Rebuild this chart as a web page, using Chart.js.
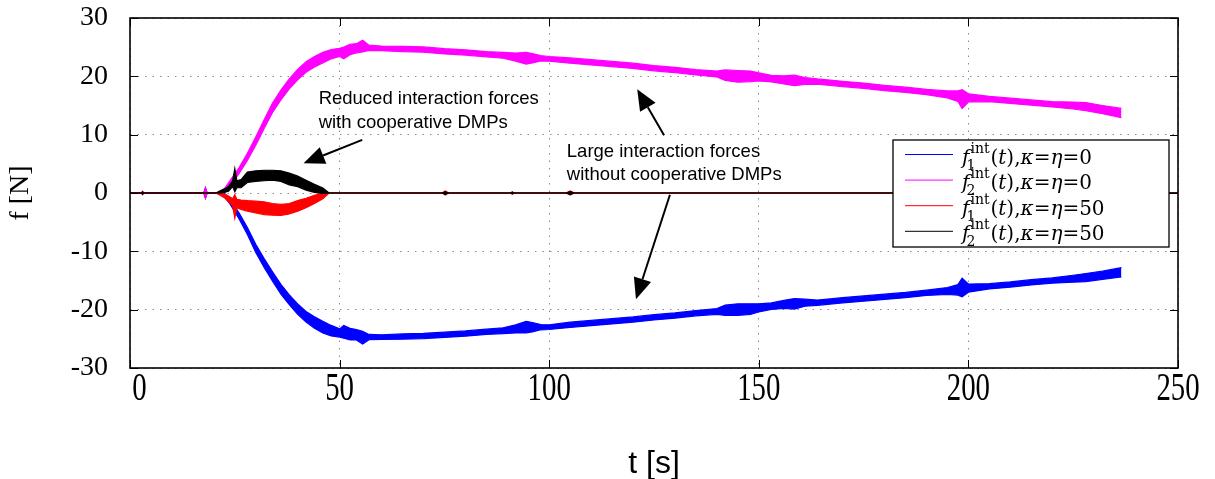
<!DOCTYPE html>
<html><head><meta charset="utf-8">
<script src="https://cdn.jsdelivr.net/npm/chart.js@4"></script>
<style>html,body{margin:0;padding:0;background:#fff;}#wrap{width:1215px;height:479px;}</style>
</head><body><div id="wrap"><canvas id="c" width="1215" height="479"></canvas></div>
<script>
// ---- tick labels ----
const tickX = [0, 50, 100, 150, 200, 250];
const tickY = [-30, -20, -10, 0, 10, 20, 30];

// ---- series without cooperative DMPs (kappa = eta = 0) ----
const tMain = [0, 17.6, 18, 18.4, 21, 22.5, 24, 26, 28, 30, 32, 34, 36, 38, 40, 42, 44, 46, 48, 50,
  51, 52.5, 54, 55.5, 57, 60, 65, 70, 75, 80, 85, 89, 92, 94.5, 96, 98, 100, 105, 110, 115,
  120, 125, 130, 135, 140, 142, 145, 148, 150, 153, 156, 158.5, 161, 164, 170, 175, 180, 185, 190, 195,
  197.5, 198.5, 200, 205, 210, 215, 220, 225, 228, 232, 236.5];
const blueMid = [0, 0, 0, 0, 0, -0.3, -1.6, -3.9, -6.5, -9.5, -12, -14.3, -16.5, -18.3, -19.9, -21.2, -22.2, -23, -23.6, -24,
  -23.8, -24.2, -24.3, -24.8, -24.7, -24.7, -24.6, -24.5, -24.3, -24.1, -23.8, -23.6, -23.3, -23.0, -23.0, -23.0, -23.0, -22.6, -22.3, -22.0,
  -21.7, -21.3, -21.0, -20.6, -20.3, -20.1, -20.0, -19.9, -19.7, -19.4, -19.1, -19.0, -18.8, -18.8, -18.4, -18.1, -17.8, -17.5, -17.1, -16.8,
  -16.6, -16.2, -16.3, -16.0, -15.7, -15.3, -15.0, -14.7, -14.5, -14.1, -13.6];
const blueSpread = [0, 0, 0.9, 0, 0, 0.3, 0.45, 0.5, 0.6, 0.7, 0.75, 0.8, 0.85, 0.85, 0.9, 0.9, 1.0, 1.0, 0.9, 0.7,
  1.1, 1.0, 0.9, 1.1, 0.45, 0.4, 0.45, 0.45, 0.45, 0.45, 0.45, 0.5, 0.7, 1.0, 0.8, 0.45, 0.4, 0.45, 0.45, 0.45,
  0.45, 0.45, 0.45, 0.45, 0.5, 0.9, 1.0, 0.9, 0.7, 0.55, 0.7, 0.9, 0.6, 0.45, 0.45, 0.45, 0.45, 0.45, 0.45, 0.6,
  0.9, 1.6, 0.7, 0.45, 0.45, 0.45, 0.45, 0.6, 0.7, 0.7, 0.8];
const magentaMid = [0, 0, 0, 0, 0, 0.4, 1.8, 3.8, 6.2, 8.9, 11.8, 14.6, 16.8, 18.7, 20.3, 21.6, 22.5, 23.2, 23.8, 24.1,
  24.0, 24.6, 24.8, 25.2, 24.9, 24.8, 24.7, 24.6, 24.3, 24.1, 23.8, 23.6, 23.3, 23.1, 23.1, 23.1, 23.0, 22.7, 22.4, 22.1,
  21.8, 21.4, 21.1, 20.7, 20.4, 20.2, 20.0, 20.0, 19.9, 19.6, 19.4, 19.3, 19.2, 19.1, 18.7, 18.4, 18.0, 17.7, 17.3, 16.9,
  16.6, 16.1, 16.3, 16.1, 15.8, 15.5, 15.2, 15.0, 14.8, 14.3, 13.7];
const magentaSpread = [0, 0, 0.9, 0, 0, 0.3, 0.45, 0.5, 0.6, 0.7, 0.75, 0.8, 0.85, 0.85, 0.9, 0.9, 0.9, 0.9, 0.8, 0.7,
  1.0, 0.9, 0.8, 1.0, 0.45, 0.4, 0.45, 0.45, 0.45, 0.45, 0.45, 0.5, 0.7, 1.0, 0.8, 0.45, 0.4, 0.45, 0.45, 0.45,
  0.45, 0.45, 0.45, 0.45, 0.5, 0.9, 1.0, 0.9, 0.7, 0.55, 0.7, 0.9, 0.6, 0.45, 0.45, 0.45, 0.45, 0.45, 0.45, 0.6,
  0.9, 1.6, 0.7, 0.45, 0.45, 0.45, 0.45, 0.6, 0.7, 0.7, 0.8];

// ---- series with cooperative DMPs (kappa = eta = 50) ----
const tCoop = [0, 2.7, 3, 3.3, 20.5, 21.5, 22.5, 23.5, 24.5, 25, 25.5, 26.5, 28, 30, 32, 34, 36, 38, 40, 42,
  44, 46, 47.5, 74.5, 75.2, 76, 90.8, 91.2, 91.6, 104, 105, 106, 250];
const redMid = [0, 0, 0, 0, 0, -0.2, -0.5, -1.0, -1.6, -2.3, -1.8, -2.0, -2.2, -2.4, -2.6, -2.8, -2.9, -2.7, -2.2, -1.7,
  -1.1, -0.5, 0, 0, 0, 0, 0, 0, 0, 0, 0, 0, 0];
const redSpread = [0, 0, 0.3, 0, 0, 0.2, 0.3, 0.5, 0.6, 2.0, 0.7, 0.8, 0.9, 1.0, 1.1, 1.0, 0.95, 0.9, 0.9, 0.8,
  0.7, 0.5, 0, 0, 0.35, 0, 0, 0.2, 0, 0, 0.35, 0, 0];
const blackMid = [0, 0, 0, 0, 0, 0.2, 0.4, 0.7, 1.6, 2.2, 1.5, 1.6, 2.7, 2.9, 3.0, 3.05, 2.9, 2.4, 2.0, 1.35,
  0.8, 0.4, 0, 0, 0, 0, 0, 0, 0, 0, 0, 0, 0];
const blackSpread = [0, 0, 0.2, 0, 0, 0.2, 0.3, 0.4, 0.5, 2.0, 0.6, 0.7, 0.9, 0.9, 0.9, 0.85, 0.9, 1.0, 0.9, 0.85,
  0.7, 0.45, 0, 0, 0.25, 0, 0, 0.15, 0, 0, 0.25, 0, 0];

// ---- legend and annotations ----
const legendColors = ['#0000ff', '#ff00ff', '#ff0000', '#000000'];
const legendSub = ['1', '2', '1', '2'];
const legendGain = ['0', '0', '50', '50'];
const noteReduced = ['Reduced interaction forces', 'with cooperative DMPs'];
const noteLarge = ['Large interaction forces', 'without cooperative DMPs'];
const noteReducedAt = [45, 15.3];
const noteLargeAt = [104.2, 6.1];
const arrows = [
  [[55.4, 9.1], [41.4, 5.1]],
  [[127.4, 9.9], [121.0, 17.8]],
  [[128.8, -0.3], [120.7, -18.2]]
];

function band(t, mid, spread, sign) {
  return t.map((x, i) => ({x: x, y: mid[i] + sign * spread[i]}));
}
const series = [
  {t: tMain, mid: blueMid, spread: blueSpread, color: legendColors[0], order: 4},
  {t: tMain, mid: magentaMid, spread: magentaSpread, color: legendColors[1], order: 3},
  {t: tCoop, mid: redMid, spread: redSpread, color: legendColors[2], order: 2},
  {t: tCoop, mid: blackMid, spread: blackSpread, color: legendColors[3], order: 1}
];
const datasets = [];
series.forEach((s, k) => {
  const common = {borderColor: s.color, backgroundColor: s.color, borderWidth: 1.2, pointRadius: 0,
    tension: 0, order: s.order};
  datasets.push(Object.assign({label: 's' + k + 'hi', data: band(s.t, s.mid, s.spread, 1), fill: false}, common));
  datasets.push(Object.assign({label: 's' + k + 'lo', data: band(s.t, s.mid, s.spread, -1), fill: '-1'}, common));
});

const serif = "'Liberation Serif', 'Times New Roman', serif";
const sans = "'Liberation Sans', Arial, sans-serif";

const decor = {
  id: 'decor',
  afterDraw(chart) {
    const ctx = chart.ctx, ca = chart.chartArea;
    const xs = chart.scales.x, ys = chart.scales.y;
    ctx.save();
    // inward ticks
    ctx.strokeStyle = '#000'; ctx.lineWidth = 1;
    ctx.beginPath();
    tickY.forEach(v => {
      const py = Math.round(ys.getPixelForValue(v)) + 0.5;
      ctx.moveTo(ca.left, py); ctx.lineTo(ca.left + 8, py);
      ctx.moveTo(ca.right, py); ctx.lineTo(ca.right - 8, py);
    });
    tickX.forEach(v => {
      const px = Math.round(xs.getPixelForValue(v)) + 0.5;
      ctx.moveTo(px, ca.bottom); ctx.lineTo(px, ca.bottom - 8);
      ctx.moveTo(px, ca.top); ctx.lineTo(px, ca.top + 8);
    });
    ctx.stroke();
    // frame
    ctx.lineWidth = 1.6;
    ctx.strokeRect(ca.left, ca.top, ca.right - ca.left, ca.bottom - ca.top);
    // x tick labels (tall narrow digits as in the figure)
    ctx.fillStyle = '#000';
    ctx.font = '40px ' + serif;
    ctx.textBaseline = 'middle';
    tickX.forEach((v, i) => {
      const px = xs.getPixelForValue(v);
      ctx.save();
      ctx.translate(px, ca.bottom + 21);
      ctx.scale(0.72, 1);
      if (i === 0) { ctx.textAlign = 'left'; ctx.fillText(String(v), 3, 0); }
      else { ctx.textAlign = 'center'; ctx.fillText(String(v), 0, 0); }
      ctx.restore();
    });
    // annotations
    ctx.font = '18.5px ' + sans;
    ctx.textAlign = 'left'; ctx.textBaseline = 'alphabetic';
    function note(lines, at, gap) {
      const px = xs.getPixelForValue(at[0]), py = ys.getPixelForValue(at[1]);
      lines.forEach((l, i) => ctx.fillText(l, px, py + i * gap));
    }
    note(noteReduced, noteReducedAt, 24);
    note(noteLarge, noteLargeAt, 23);
    arrows.forEach(a => {
      const x0 = xs.getPixelForValue(a[0][0]), y0 = ys.getPixelForValue(a[0][1]);
      const x1 = xs.getPixelForValue(a[1][0]), y1 = ys.getPixelForValue(a[1][1]);
      const ang = Math.atan2(y1 - y0, x1 - x0);
      const hl = 21, hw = 9;
      const bx = x1 - hl * Math.cos(ang), by = y1 - hl * Math.sin(ang);
      ctx.lineWidth = 2;
      ctx.beginPath(); ctx.moveTo(x0, y0); ctx.lineTo(bx, by); ctx.stroke();
      ctx.beginPath();
      ctx.moveTo(x1, y1);
      ctx.lineTo(bx + hw * Math.sin(ang), by - hw * Math.cos(ang));
      ctx.lineTo(bx - hw * Math.sin(ang), by + hw * Math.cos(ang));
      ctx.closePath(); ctx.fill();
    });
    // legend
    const bw = 276, bh = 107;
    const bl = ca.right - 9 - bw, bt = ca.top + 122;
    ctx.fillStyle = '#fff';
    ctx.fillRect(bl, bt, bw, bh);
    ctx.strokeStyle = '#000'; ctx.lineWidth = 1.3;
    ctx.strokeRect(bl, bt, bw, bh);
    const mainF = '20px ' + "'DejaVu Serif', serif";
    const itF = 'italic 20px ' + "'DejaVu Serif', serif";
    const smallF = '14px ' + "'DejaVu Serif', serif";
    legendColors.forEach((c, i) => {
      const ly = bt + 14.5 + i * 25.6;
      ctx.strokeStyle = c; ctx.lineWidth = 1;
      ctx.beginPath(); ctx.moveTo(bl + 12, ly); ctx.lineTo(bl + 60, ly); ctx.stroke();
      ctx.fillStyle = '#000';
      const base = ly + 9;
      let x = bl + 69;
      ctx.font = itF; ctx.fillText('f', x, base);
      const fw = ctx.measureText('f').width;
      ctx.font = smallF;
      ctx.fillText('int', x + fw + 1, base - 11);
      const supW = ctx.measureText('int').width;
      ctx.fillText(legendSub[i], x + fw - 3, base + 6);
      x = x + fw + 1 + supW + 1;
      const parts = [['(', mainF], ['t', itF], ['),', mainF], ['κ', itF], ['=', mainF], ['η', itF], ['=' + legendGain[i], mainF]];
      parts.forEach(p => { ctx.font = p[1]; ctx.fillText(p[0], x, base); x += ctx.measureText(p[0]).width; });
    });
    ctx.restore();
  }
};

new Chart(document.getElementById('c'), {
  type: 'line',
  data: {datasets: datasets},
  options: {
    responsive: false, animation: false, devicePixelRatio: 1,
    layout: {padding: {left: 0, top: 18, right: 37, bottom: 0}},
    plugins: {legend: {display: false}, tooltip: {enabled: false}},
    scales: {
      x: {
        type: 'linear', min: 0, max: 250,
        afterBuildTicks: s => { s.ticks = tickX.map(v => ({value: v})); },
        afterFit: s => { s.height = 111; s.paddingLeft = 0; s.paddingRight = 0; },
        ticks: {display: false},
        grid: {color: '#8a8a8a', lineWidth: 1, drawTicks: false},
        border: {display: false, dash: [1.5, 6]},
        title: {display: true, text: 't [s]', color: '#000',
          font: {family: "'Liberation Sans Narrow', 'Liberation Sans', sans-serif", size: 32, lineHeight: 0.9}, padding: {top: 0, bottom: 0}}
      },
      y: {
        min: -30, max: 30,
        afterBuildTicks: s => { s.ticks = tickY.map(v => ({value: v})); },
        afterFit: s => { s.width = 130; s.paddingTop = 0; s.paddingBottom = 0; },
        ticks: {color: '#000', padding: 22, font: {family: serif, size: 28}},
        grid: {color: '#8a8a8a', lineWidth: 1, drawTicks: false},
        border: {display: false, dash: [1.5, 6]},
        title: {display: true, text: 'f [N]', color: '#000', font: {family: serif, size: 28}, padding: {top: 4, bottom: 0}}
      }
    }
  },
  plugins: [decor]
});
</script></body></html>
